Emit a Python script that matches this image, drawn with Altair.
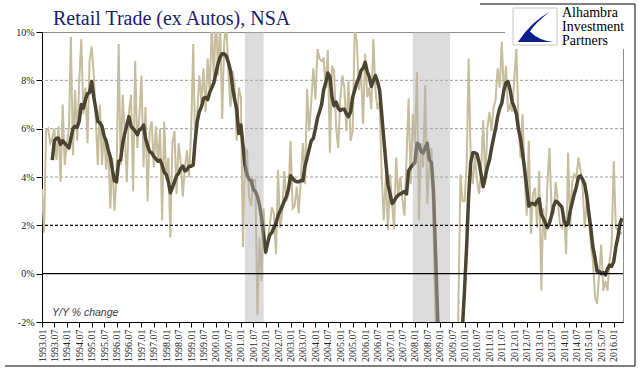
import altair as alt
import pandas as pd

# Monthly Y/Y % change, retail trade ex autos (1993.01 - 2016.05)
yoy = [
    3.5, 1.7, 5.9, 6.0, 5.4, 5.6, 6.0, 4.7, 6.1, 3.8, 7.0, 4.5,      # 1993
    5.4, 6.0, 9.8, 4.9, 7.6, 5.5, 7.9, 9.7, 6.6, 7.7, 5.4, 8.8,      # 1994
    9.4, 8.2, 6.5, 4.5, 7.0, 4.5, 6.0, 4.3, 5.4, 2.7, 4.8, 2.6,      # 1995
    4.0, 9.5, 4.5, 7.4, 5.8, 3.8, 6.7, 7.4, 3.4, 8.8, 5.2, 6.5,      # 1996
    8.2, 4.4, 6.9, 3.0, 5.9, 6.3, 4.4, 6.1, 4.6, 6.0, 2.2, 6.3,      # 1997
    3.9, 4.8, 1.5, 5.4, 5.9, 3.3, 5.4, 4.6, 3.2, 4.4, 5.1, 4.0,      # 1998
    5.9, 9.5, 5.3, 6.6, 8.2, 7.1, 8.5, 6.7, 8.9, 7.5, 10.4, 8.0,     # 1999
    10.8, 8.2, 10.5, 6.4, 9.6, 10.3, 8.3, 6.9, 8.4, 7.8, 5.5, 7.7,   # 2000
    7.3, 1.1, 5.2, 5.1, 3.2, 2.8, 3.9, 3.85, -1.7, 1.5, -0.3, 2.7,   # 2001
    0.8, 1.4, 2.0, 2.75, 2.5, 0.8, 4.3, 1.9, 2.5, 4.25, 3.0, 3.3,    # 2002
    5.5, 2.7, 2.8, 3.6, 2.5, 3.9, 5.4, 3.7, 7.65, 5.9, 7.1, 8.5,     # 2003
    7.2, 9.3, 8.9, 8.8, 8.9, 7.7, 9.25, 5.0, 8.6, 8.4, 6.0, 5.2,     # 2004
    7.3, 8.2, 7.7, 5.9, 8.0, 5.5, 5.9, 10.1, 9.6, 7.6, 8.4, 6.2,     # 2005
    9.1, 7.3, 7.7, 6.8, 9.7, 7.6, 6.8, 7.1, 4.1, 2.2, 4.1, 1.8,      # 2006
    4.1, 2.9, 1.85, 4.8, 3.2, 4.0, 3.1, 2.4, 4.8, 7.25, 3.7, 6.6,    # 2007
    5.4, 8.35, 2.2, 5.4, 4.4, 7.8, 2.9, 4.4, 5.2, 1.9, -2.5, -5.5,   # 2008
    -8.5, -10.0, -9.5, -11.0, -11.5, -10.5, -10.0, -8.5, -6.0, -1.5, 4.1, 3.0,  # 2009
    3.0, 4.6, 8.9, 4.6, 3.7, 4.9, 3.9, 3.3, 4.3, 6.35, 3.7, 6.0,     # 2010
    6.7, 5.9, 6.85, 7.2, 8.5, 7.7, 9.6, 7.4, 8.6, 6.7, 7.0, 6.7,     # 2011
    8.1, 9.3, 6.4, 4.8, 6.6, 3.95, 2.4, 5.5, 1.65, 3.3, 3.55, 1.9,   # 2012
    4.25, -0.7, 2.7, 1.4, 3.7, 5.2, 2.7, 2.45, 3.8, 3.0, 2.05, 1.9,  # 2013
    2.45, 0.8, 5.0, 1.9, 3.8, 4.1, 3.95, 4.8, 4.25, 3.55, 1.9, 3.0,  # 2014
    2.2, 1.15, 0.55, -0.95, -1.25, 0.0, 1.2, -0.7, -0.3, -0.7, 0.55, 1.2,  # 2015
    4.65, 1.9, 1.8, 1.65, 1.7,                                       # 2016
]

# Smoothed series (dark line)
smooth = [
    None, None, None, None, None, 4.7, 5.5, 5.6, 5.6, 5.35, 5.5, 5.4,  # 1993
    5.3, 5.2, 5.6, 6.0, 6.1, 6.05, 6.3, 7.0, 6.85, 7.2, 7.45, 7.5,     # 1994
    7.95, 7.3, 6.85, 6.3, 6.25, 6.1, 5.7, 5.5, 5.1, 4.85, 4.3, 3.85,   # 1995
    3.8, 4.65, 4.7, 5.4, 5.8, 6.15, 6.5, 6.1, 6.0, 5.9, 5.75, 5.95,    # 1996
    6.0, 6.15, 5.6, 5.3, 5.05, 5.0, 4.85, 4.75, 4.65, 4.7, 4.5, 4.2,   # 1997
    4.1, 3.8, 3.35, 3.55, 3.8, 4.05, 4.15, 4.35, 4.45, 4.25, 4.3, 4.45,  # 1998
    4.45, 4.5, 5.5, 6.3, 6.7, 6.9, 7.25, 7.3, 7.2, 7.5, 7.7, 7.9,      # 1999
    8.3, 8.7, 8.95, 9.1, 9.1, 9.0, 8.75, 8.4, 7.7, 7.2, 6.8, 5.8,      # 2000
    6.15, 5.3, 4.5, 4.1, 3.9, 3.85, 3.5, 3.4, 3.2, 2.85, 2.3, 1.55,    # 2001
    0.9, 1.3, 1.6, 1.7, 1.9, 2.1, 2.4, 2.6, 2.8, 3.0, 3.2, 3.5,        # 2002
    4.05, 3.95, 3.85, 3.8, 3.8, 3.85, 3.85, 4.45, 4.8, 5.15, 5.5, 5.6,  # 2003
    6.0, 6.45, 6.7, 7.0, 7.6, 7.9, 8.3, 8.15, 7.3, 6.95, 7.1, 6.85,    # 2004
    6.75, 6.8, 6.8, 6.6, 6.5, 6.7, 7.3, 7.6, 7.9, 8.1, 8.4, 8.5,       # 2005
    8.75, 8.35, 8.15, 7.75, 8.0, 8.2, 7.95, 7.6, 6.6, 5.6, 4.6, 3.7,   # 2006
    3.3, 2.9, 3.0, 3.15, 3.25, 3.3, 3.35, 3.4, 3.3, 4.25, 4.4, 4.5,    # 2007
    4.6, 5.4, 5.35, 5.05, 5.0, 5.2, 5.4, 4.7, 4.6, 3.4, 0.8, -1.8,     # 2008
    -4.5, -6.5, -8.0, -9.0, -9.5, -9.8, -9.6, -9.0, -8.0, -6.5, -4.5, -2.2,  # 2009
    -0.6, 1.2, 3.2, 4.6, 5.0, 5.0, 4.95, 4.6, 4.1, 3.6, 4.0, 4.4,      # 2010
    4.7, 5.2, 5.6, 6.0, 6.5, 6.85, 7.05, 7.6, 7.9, 7.95, 7.6, 7.1,     # 2011
    6.9, 6.6, 6.0, 5.6, 5.0, 4.3, 3.6, 2.8, 2.9, 2.9, 2.85, 3.0,       # 2012
    3.1, 2.45, 2.3, 2.1, 1.9, 2.1, 2.4, 2.8, 3.0, 2.95, 2.85, 2.75,    # 2013
    2.2, 2.0, 2.05, 2.6, 2.95, 3.3, 3.6, 4.0, 4.05, 3.9, 3.7, 3.2,     # 2014
    2.5, 1.8, 1.1, 0.65, 0.1, 0.1, 0.0, 0.05, -0.05, 0.2, 0.35, 0.3,   # 2015
    0.5, 1.1, 1.5, 2.05, 2.3,                                          # 2016
]

recession_start = ["2001-03-01", "2007-12-01"]
recession_end = ["2001-12-01", "2009-06-01"]

grid_gray = [4, 6, 8]
grid_dashed_black = [2]
grid_solid_black = [0]
y_ticks = [-2, 0, 2, 4, 6, 8, 10]
x_tick_years = list(range(1993, 2017))

months = pd.date_range("1993-01-01", periods=len(yoy), freq="MS")
df = pd.DataFrame({"date": months, "yoy": yoy, "smooth": smooth})
rec = pd.DataFrame({"start": pd.to_datetime(recession_start), "end": pd.to_datetime(recession_end)})
one = pd.DataFrame({"a": [0]})

x_vals = []
for y in x_tick_years:
    for m in (1, 7):
        if y == 2016 and m == 7:
            continue
        x_vals.append(alt.DateTime(year=y, month=m, date=1))

x_scale = alt.Scale(domain=[alt.DateTime(year=1993, month=1, date=1),
                            alt.DateTime(year=2016, month=5, date=16)])
y_scale = alt.Scale(domain=[-2, 10], nice=False, zero=False)

serif = "Liberation Serif"

x_axis = alt.Axis(values=x_vals, format="%Y.%m", labelAngle=270, labelFlush=False,
                  labelOverlap=False, tickSize=5, labelPadding=2, grid=False,
                  domainColor="black", tickColor="black", labelFont=serif,
                  labelFontSize=10, labelColor="#222222", title=None)
y_axis = alt.Axis(values=y_ticks, labelExpr="datum.value + '%'", grid=False,
                  tickSize=6, labelPadding=2, domainColor="black", tickColor="black",
                  labelFont=serif, labelFontSize=10, labelColor="#222222", title=None)

grid1 = alt.Chart(pd.DataFrame({"v": grid_gray})).mark_rule(
    color="#9a9a9a", strokeWidth=1, strokeDash=[3, 2]
).encode(y=alt.Y("v:Q", scale=y_scale, axis=y_axis, title=None))

tan = alt.Chart(df).mark_line(color="#c6bd9c", strokeWidth=2, clip=True).encode(
    x=alt.X("date:T", scale=x_scale, axis=x_axis, title=None),
    y=alt.Y("yoy:Q", scale=y_scale, axis=y_axis, title=None),
)

dark = alt.Chart(df).mark_line(color="#4a4431", strokeWidth=3.5, clip=True,
                               strokeJoin="round").encode(
    x=alt.X("date:T", scale=x_scale, axis=x_axis, title=None),
    y=alt.Y("smooth:Q", scale=y_scale, axis=y_axis, title=None),
)

shade = alt.Chart(rec).mark_rect(color="#b3b3b3", opacity=0.46).encode(
    x=alt.X("start:T", scale=x_scale, axis=x_axis, title=None), x2="end:T"
)

grid2 = alt.Chart(pd.DataFrame({"v": grid_dashed_black})).mark_rule(
    color="black", strokeWidth=1.2, strokeDash=[3, 2]
).encode(y=alt.Y("v:Q", scale=y_scale, axis=y_axis, title=None))

grid3 = alt.Chart(pd.DataFrame({"v": grid_solid_black})).mark_rule(
    color="black", strokeWidth=1.3
).encode(y=alt.Y("v:Q", scale=y_scale, axis=y_axis, title=None))

title = alt.Chart(one).mark_text(
    text="Retail Trade (ex Autos), NSA", font=serif, fontSize=20, color="#1c1c6e",
    align="left", baseline="alphabetic"
).encode(x=alt.value(11), y=alt.value(-7))

note = alt.Chart(one).mark_text(
    text="Y/Y % change", font="Liberation Sans", fontStyle="italic", fontSize=10.5,
    color="#3a3a3a", align="left", baseline="alphabetic"
).encode(x=alt.value(10), y=alt.value(284))

logo_bg = alt.Chart(one).mark_rect(fill="white").encode(
    x=alt.value(463), x2=alt.value(590), y=alt.value(-32), y2=alt.value(17)
)
logo_box = alt.Chart(one).mark_rect(fill="white", stroke="#c4c4c4", strokeWidth=1).encode(
    x=alt.value(471), x2=alt.value(515), y=alt.value(-24), y2=alt.value(13)
)
logo_icon = alt.Chart(one).mark_point(
    shape="M -0.95 0.83 Q -0.2 -0.3 0.8 -0.83 Q 0 -0.2 -0.28 0.25 Q 0.2 0.75 1 0.83 Z",
    filled=True, fill="#0b1f8f", opacity=1, size=1300, strokeWidth=0
).encode(x=alt.value(493), y=alt.value(-5))
logo_text = alt.Chart(one).mark_text(
    text=["Alhambra", "Investment", "Partners"], font=serif, fontSize=14, lineHeight=14,
    color="black", align="left", baseline="alphabetic"
).encode(x=alt.value(520), y=alt.value(-15))

frame_bottom = alt.Chart(one).mark_rule(color="black", strokeWidth=1).encode(
    x=alt.value(-37), x2=alt.value(593), y=alt.value(334)
)
frame_right = alt.Chart(one).mark_rule(color="black", strokeWidth=1).encode(
    x=alt.value(593), y=alt.value(-28), y2=alt.value(334)
)
frame_top = alt.Chart(one).mark_rule(color="black", strokeWidth=1).encode(
    x=alt.value(438), x2=alt.value(593), y=alt.value(-28)
)

chart = alt.layer(
    grid1, tan, dark, shade, grid2, grid3, title, note,
    logo_bg, logo_box, logo_icon, logo_text, frame_bottom, frame_right, frame_top
).properties(
    width=581, height=290,
    autosize=alt.AutoSizeParams(type="none"),
    padding={"left": 42, "top": 32, "right": 18, "bottom": 53},
).configure_view(stroke="#8c8c8c", strokeWidth=1)

chart.save("out.html", embed_options={"renderer": "svg", "actions": False})
